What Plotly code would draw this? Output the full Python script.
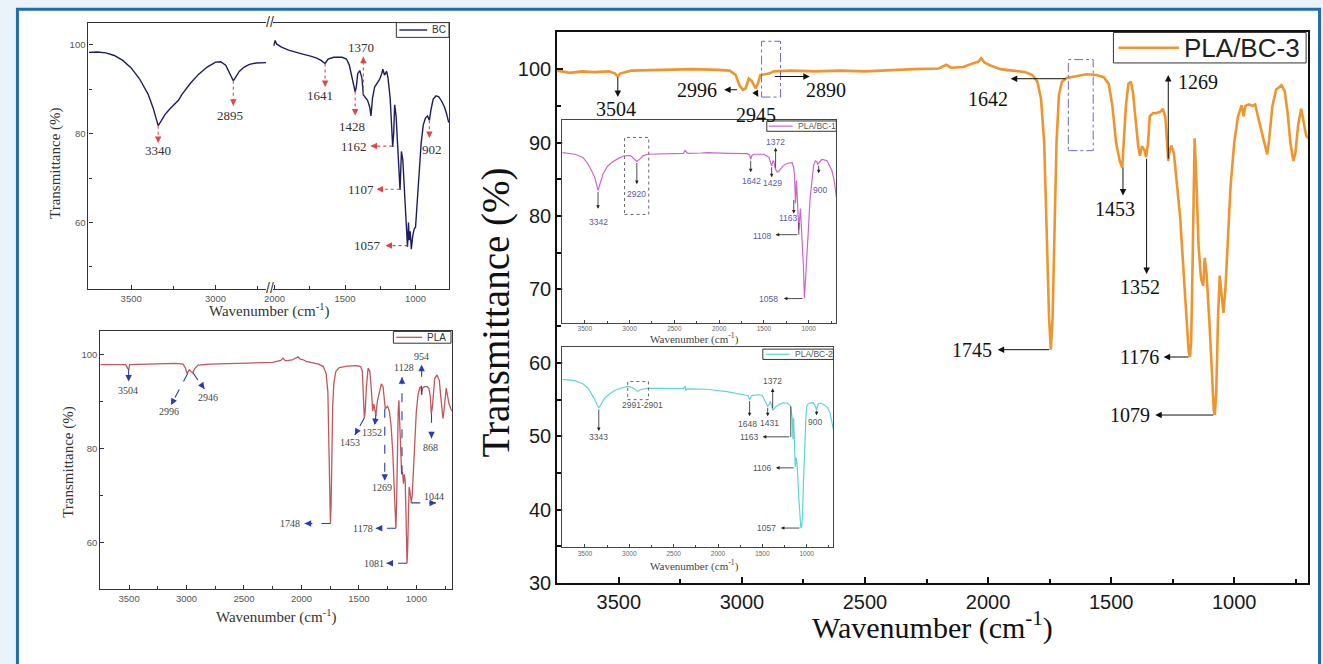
import math
import plotly.graph_objects as go

W, H = 1323, 664

# ---------------- data (wavenumber cm-1, transmittance %) ----------------
bc_wn_high = [3750, 3700, 3650, 3600, 3550, 3500, 3450, 3400, 3370, 3340, 3320, 3300, 3270, 3250,
              3220, 3200, 3150, 3100, 3050, 3000, 2970, 2940, 2910, 2895, 2880, 2860, 2830, 2800,
              2760, 2720, 2700]
bc_t_high = [98.3, 98.4, 98.2, 97.6, 96.5, 94.8, 92.3, 88.9, 85.8, 81.8, 83.0, 84.3, 85.6, 86.3,
             87.5, 88.8, 91.3, 93.4, 95.0, 96.1, 96.2, 95.4, 93.2, 91.9, 92.8, 94.0, 95.0, 95.6,
             95.9, 96.0, 96.0]
bc_wn_low = [2005, 1995, 1985, 1950, 1900, 1850, 1800, 1750, 1700, 1670, 1641, 1620, 1580, 1520,
             1490, 1470, 1450, 1435, 1428, 1420, 1410, 1395, 1380, 1370, 1355, 1340, 1325, 1316,
             1305, 1290, 1270, 1255, 1240, 1232, 1220, 1205, 1195, 1180, 1170, 1162, 1155, 1148,
             1138, 1125, 1110, 1100, 1090, 1075, 1065, 1057, 1050, 1045, 1038, 1030, 1020, 1010,
             1000, 990, 975, 960, 945, 930, 915, 902, 890, 875, 855, 835, 815, 795, 780, 765]
bc_t_low = [99.8, 101.0, 100.2, 99.5, 98.8, 98.3, 97.9, 97.5, 97.0, 96.5, 95.8, 96.8, 97.2, 97.2,
            96.8, 95.5, 92.5, 89.8, 89.4, 90.5, 93.5, 94.2, 92.5, 88.7, 88.2, 87.5, 86.0, 84.0,
            88.0, 90.5, 91.5, 92.2, 93.5, 94.5, 93.2, 94.0, 92.5, 88.0, 82.0, 77.0, 80.0, 86.5,
            84.0, 75.0, 67.3, 76.0, 74.0, 65.0, 58.0, 54.5, 60.0, 56.0, 58.0, 54.0, 57.0, 58.5,
            59.0, 64.0, 72.0, 78.0, 82.0, 83.5, 84.0, 83.0, 85.5, 87.8, 88.5, 88.3, 87.3, 86.0,
            84.5, 82.5]

pla_wn = [3750, 3600, 3530, 3510, 3504, 3495, 3300, 3100, 3030, 3010, 2996, 2975, 2960, 2946, 2930,
          2900, 2800, 2600, 2400, 2250, 2180, 2160, 2140, 2080, 2030, 2010, 1990, 1960, 1900, 1850,
          1810, 1785, 1770, 1760, 1752, 1748, 1742, 1735, 1728, 1718, 1700, 1670, 1600, 1520, 1485,
          1470, 1462, 1453, 1445, 1435, 1420, 1405, 1390, 1380, 1370, 1360, 1352, 1340, 1320, 1305,
          1290, 1280, 1270, 1260, 1250, 1235, 1220, 1205, 1190, 1182, 1178, 1172, 1165, 1158, 1152,
          1145, 1135, 1128, 1120, 1112, 1104, 1097, 1090, 1085, 1081, 1076, 1070, 1063, 1056, 1050,
          1044, 1036, 1025, 1012, 1000, 985, 970, 960, 954, 948, 930, 905, 890, 878, 870, 862, 852,
          840, 820, 800, 785, 775, 768, 760, 750, 740, 730, 715, 700, 690]
pla_t = [97.9, 98.0, 97.9, 97.0, 96.8, 97.9, 98.1, 98.2, 98.0, 97.2, 96.0, 96.8, 96.4, 96.2, 97.0,
         97.8, 98.0, 98.1, 98.3, 98.4, 98.8, 99.3, 98.7, 98.9, 99.6, 99.1, 99.0, 98.6, 98.3, 98.0,
         97.5, 96.0, 92.0, 80.0, 68.0, 64.0, 68.0, 80.0, 89.0, 94.0, 96.5, 97.3, 97.6, 97.7, 97.5,
         96.5, 93.0, 86.5, 88.0, 93.0, 97.2, 96.5, 92.0, 88.0, 89.5, 87.5, 87.0, 90.0, 92.5, 93.8,
         93.2, 91.0, 88.5, 88.8, 89.0, 88.0, 85.0, 79.0, 70.0, 63.5, 63.0, 68.0, 80.0, 88.0, 90.3,
         86.0, 76.0, 74.5, 75.0, 72.5, 74.5, 73.0, 66.0, 58.0, 55.5, 58.0, 64.0, 71.8, 71.0, 69.0,
         68.4, 70.0, 75.0, 82.0, 88.0, 91.5, 93.0, 93.2, 91.5, 92.8, 93.2, 93.2, 92.8, 91.0, 87.4,
         88.5, 92.5, 95.0, 95.7, 94.5, 90.5, 87.0, 86.4, 88.0, 91.5, 92.9, 91.5, 89.5, 88.5, 88.0]

bc3_wn = [3750, 3700, 3650, 3600, 3540, 3515, 3504, 3495, 3450, 3300, 3200, 3100, 3050, 3025, 3010,
          2996, 2985, 2972, 2960, 2945, 2935, 2925, 2910, 2890, 2870, 2800, 2700, 2600, 2500, 2400,
          2300, 2200, 2170, 2150, 2100, 2060, 2040, 2028, 2015, 1990, 1950, 1900, 1850, 1820, 1800,
          1785, 1772, 1762, 1752, 1745, 1738, 1730, 1722, 1712, 1700, 1680, 1650, 1600, 1560, 1530,
          1510, 1495, 1480, 1465, 1455, 1448, 1440, 1430, 1420, 1412, 1400, 1390, 1383, 1375, 1365,
          1358, 1350, 1343, 1330, 1320, 1300, 1290, 1280, 1272, 1268, 1262, 1255, 1245, 1235, 1220,
          1205, 1195, 1185, 1180, 1175, 1170, 1165, 1161, 1155, 1145, 1135, 1126, 1120, 1112, 1100,
          1090, 1083, 1079, 1073, 1066, 1059, 1052, 1044, 1036, 1028, 1015, 1000, 985, 970, 962, 955,
          940, 925, 915, 900, 885, 875, 866, 858, 845, 830, 808, 795, 783, 772, 760, 752, 740, 728,
          718, 708, 700]
bc3_t = [99.8, 99.5, 99.7, 99.6, 99.7, 99.4, 99.0, 99.4, 99.8, 99.9, 100.0, 99.9, 99.8, 99.2, 97.8,
         97.2, 97.4, 98.7, 98.4, 97.4, 98.0, 99.2, 99.3, 99.4, 99.7, 99.8, 99.7, 99.8, 99.7, 99.9,
         100.0, 100.1, 100.6, 100.2, 100.3, 100.8, 101.0, 101.5, 100.9, 100.5, 100.0, 99.8, 99.6,
         99.2, 98.3, 96.0, 90.0, 78.0, 66.0, 61.8, 66.0, 78.0, 90.0, 96.5, 98.3, 98.8, 99.0, 99.3,
         99.2, 98.9, 98.0, 95.0, 90.0, 87.5, 86.6, 90.0, 95.0, 98.0, 98.3, 97.0, 93.0, 89.5, 88.2,
         89.5, 89.0, 88.0, 90.0, 93.6, 94.0, 94.0, 94.2, 94.6, 93.5, 89.5, 87.5, 89.0, 89.6, 88.5,
         85.0, 80.0, 72.0, 66.0, 61.5, 60.8, 63.0, 72.0, 83.0, 90.6, 86.0, 76.0, 71.5, 70.5, 74.3,
         72.0, 65.0, 58.0, 53.5, 52.9, 56.0, 66.0, 71.9, 69.5, 66.8, 70.0, 76.0, 84.0, 90.0, 93.5,
         95.1, 93.6, 95.0, 95.2, 95.0, 95.2, 93.0, 91.0, 89.5, 88.4, 90.5, 95.0, 97.2, 97.8, 97.0,
         94.0, 90.0, 87.5, 88.5, 92.5, 94.6, 93.0, 91.0, 90.6]

bc1_wn = [3750, 3611, 3520, 3463, 3420, 3389, 3352, 3320, 3297, 3250, 3203, 3130, 3056, 2990, 2963,
          2919, 2880, 2852, 2797, 2650, 2500, 2400, 2380, 2365, 2350, 2200, 2130, 1900, 1685, 1660,
          1648, 1635, 1611, 1500, 1470, 1444, 1425, 1414, 1400, 1389, 1372, 1350, 1335, 1315, 1290,
          1259, 1220, 1185, 1170, 1159, 1148, 1137, 1124, 1111, 1093, 1075, 1060, 1048, 1038, 1026,
          1013, 1000, 985, 963, 945, 926, 910, 900, 889, 870, 852, 830, 796, 770, 741, 715, 692]
bc1_t = [94.5, 94.0, 93.0, 90.8, 88.5, 86.6, 82.4, 85.5, 87.6, 90.0, 91.3, 92.6, 93.5, 93.6, 92.9,
         91.7, 92.6, 93.5, 94.0, 94.1, 94.2, 94.3, 95.2, 94.7, 94.3, 94.4, 94.5, 94.3, 94.2, 93.8,
         92.4, 93.6, 94.0, 94.0, 93.6, 93.0, 91.2, 90.3, 91.8, 91.8, 89.2, 88.3, 88.5, 89.2, 90.2,
         90.8, 91.2, 91.3, 90.0, 87.6, 78.2, 85.6, 78.0, 69.8, 76.6, 68.0, 58.2, 47.7, 52.0, 57.1,
         65.0, 71.8, 80.0, 86.6, 90.5, 91.9, 91.6, 90.8, 91.2, 92.1, 92.4, 92.2, 91.9, 90.5, 88.7,
         85.5, 80.3]

bc2_wn = [3750, 3611, 3520, 3463, 3400, 3344, 3310, 3277, 3220, 3166, 3090, 3018, 2960, 2930, 2906,
          2870, 2795, 2650, 2498, 2390, 2372, 2362, 2350, 2200, 2127, 1900, 1682, 1660, 1644, 1625,
          1607, 1532, 1500, 1466, 1440, 1420, 1410, 1395, 1384, 1365, 1347, 1310, 1273, 1217, 1180,
          1163, 1155, 1148, 1140, 1130, 1118, 1106, 1090, 1075, 1066, 1057, 1048, 1038, 1025, 1010,
          1000, 985, 960, 930, 910, 889, 870, 850, 820, 796, 770, 741, 720, 700]
bc2_t = [94.5, 94.1, 93.0, 91.6, 88.5, 85.2, 86.8, 88.4, 89.8, 90.9, 91.7, 92.2, 91.8, 91.0, 90.6,
         91.2, 91.6, 91.6, 91.6, 91.5, 92.3, 90.9, 91.4, 91.4, 91.3, 90.5, 89.5, 89.2, 87.9, 89.0,
         89.3, 89.5, 89.2, 87.3, 85.7, 86.5, 87.3, 86.0, 84.6, 85.0, 85.7, 86.3, 86.8, 86.8, 85.7,
         81.4, 75.0, 82.0, 74.0, 66.0, 69.0, 65.7, 56.0, 48.0, 46.1, 46.5, 50.0, 60.0, 72.0, 82.0,
         85.7, 86.5, 86.8, 87.0, 86.2, 84.6, 86.5, 86.8, 86.5, 86.0, 85.5, 84.0, 81.0, 78.2]

# ---------------- styles ----------------
SERIF = "Liberation Serif, Times New Roman, serif"
SANS = "Liberation Sans, Arial, sans-serif"
C_BC, C_PLA, C_BC3, C_BC1, C_BC2 = "#1d1d5e", "#c0575a", "#ee9530", "#cc66cc", "#5dd5d5"
C_RED, C_BLUE = "#e04646", "#2a3cb0"

# axis geometry (pixels) -> paper domains
AX = {
    "1": dict(dx=(80, 259), dy=(23, 294), rx=(3753, 2700), ry=(45, 105)),
    "2": dict(dx=(266, 443), dy=(23, 294), rx=(2009, 763), ry=(45, 105)),
    "3": dict(dx=(92, 446), dy=(337, 599), rx=(3750, 690), ry=(50, 105)),
    "4": dict(dx=(552, 1308), dy=(33, 593), rx=(3750, 700), ry=(30, 105)),
    "5": dict(dx=(557, 833), dy=(122, 328), rx=(3752, 692), ry=(40, 105)),
    "6": dict(dx=(557, 830), dy=(353, 556), rx=(3756, 700), ry=(40, 105)),
}


def xd(k):
    a, b = AX[k]["dx"]
    return [a / W, b / W]


def yd(k):
    t, b = AX[k]["dy"]
    return [1 - b / H, 1 - t / H]


def ref(k):
    return ("x" if k == "1" else "x" + k), ("y" if k == "1" else "y" + k)


def scale(k):
    a = AX[k]
    sx = (a["dx"][1] - a["dx"][0]) / (a["rx"][1] - a["rx"][0])
    sy = (a["dy"][1] - a["dy"][0]) / (a["ry"][1] - a["ry"][0])
    return sx, sy


fig = go.Figure()
series = [("1", bc_wn_high, bc_t_high, C_BC, 1.4), ("2", bc_wn_low, bc_t_low, C_BC, 1.4),
          ("3", pla_wn, pla_t, C_PLA, 1.3), ("4", bc3_wn, bc3_t, C_BC3, 2.6),
          ("5", bc1_wn, bc1_t, C_BC1, 1.2), ("6", bc2_wn, bc2_t, C_BC2, 1.2)]
for k, xs, ys, col, wd in series:
    xr, yr = ref(k)
    fig.add_trace(go.Scatter(x=xs, y=ys, xaxis=xr, yaxis=yr, mode="lines",
                             line=dict(color=col, width=wd), showlegend=False, hoverinfo="skip"))

layout = {}


def xaxis(k, **kw):
    base = dict(domain=xd(k), range=list(AX[k]["rx"]), anchor=ref(k)[1], showgrid=False,
                zeroline=False, showline=True, ticks="inside")
    base.update(kw)
    layout["xaxis" if k == "1" else "xaxis" + k] = base


def yaxis(k, **kw):
    base = dict(domain=yd(k), range=list(AX[k]["ry"]), anchor=ref(k)[0], showgrid=False,
                zeroline=False, showline=True, ticks="inside")
    base.update(kw)
    layout["yaxis" if k == "1" else "yaxis" + k] = base


small_tick = dict(size=9.5, color="#555", family=SANS)
xaxis("1", tickvals=[3500, 3000], linecolor="#333", linewidth=1.2, mirror=True, ticklen=4,
      tickcolor="#333", tickfont=small_tick,
      minor=dict(tickvals=[3250, 2750], ticks="inside", ticklen=3, tickcolor="#333"))
yaxis("1", tickvals=[60, 80, 100], linecolor="#333", linewidth=1.2, ticklen=4, tickcolor="#333",
      tickfont=small_tick, minor=dict(dtick=10, ticks="inside", ticklen=3, tickcolor="#333"))
xaxis("2", tickvals=[2000, 1500, 1000], linecolor="#333", linewidth=1.2, mirror=True, ticklen=4,
      tickcolor="#333", tickfont=small_tick,
      minor=dict(tickvals=[1750, 1250], ticks="inside", ticklen=3, tickcolor="#333"))
yaxis("2", side="right", ticks="", showticklabels=False, linecolor="#333", linewidth=1.2)
xaxis("3", dtick=500, tick0=0, linecolor="#333", linewidth=1.2, mirror=True, ticklen=4,
      tickcolor="#333", tickfont=small_tick,
      minor=dict(dtick=250, ticks="inside", ticklen=3, tickcolor="#333"))
yaxis("3", tickvals=[60, 80, 100], linecolor="#333", linewidth=1.2, mirror=True, ticklen=4,
      tickcolor="#333", tickfont=small_tick,
      minor=dict(dtick=10, ticks="inside", ticklen=3, tickcolor="#333"))
big_tick = dict(size=20, color="#1a1a1a", family=SANS)
xaxis("4", dtick=500, tick0=0, linecolor="#111", linewidth=2, mirror=True, ticklen=6,
      tickwidth=2, tickcolor="#111", tickfont=big_tick,
      minor=dict(dtick=250, ticks="inside", ticklen=4, tickcolor="#111", tickwidth=1.5))
yaxis("4", dtick=10, tick0=0, linecolor="#111", linewidth=2, mirror=True, ticklen=6,
      tickwidth=2, tickcolor="#111", tickfont=big_tick,
      minor=dict(dtick=5, ticks="inside", ticklen=4, tickcolor="#111", tickwidth=1.5))
tiny_tick = dict(size=6.5, color="#666", family=SANS)
for k in ("5", "6"):
    xaxis(k, dtick=500, tick0=0, linecolor="#444", linewidth=1, mirror=True, ticklen=3,
          tickcolor="#444", tickfont=tiny_tick,
          minor=dict(dtick=250, ticks="inside", ticklen=2, tickcolor="#444"))
    yaxis(k, showticklabels=False, ticks="", linecolor="#444", linewidth=1, mirror=True)

ann = []
shapes = []

# ---- frame ----
shapes.append(dict(type="rect", xref="paper", yref="paper", x0=8.5 / W, x1=1319.5 / W,
                   y0=-0.05, y1=1 - 9.5 / H, line=dict(color="#1f6cb3", width=3),
                   fillcolor="white", layer="below"))


def ptxt(text, px, py, size, color="#222", family=SERIF, angle=0, xanchor="center"):
    ann.append(dict(text=text, x=px / W, y=1 - py / H, xref="paper", yref="paper",
                    showarrow=False, textangle=angle, xanchor=xanchor, yanchor="middle",
                    font=dict(size=size, color=color, family=family)))


# ---- axis titles ----
ptxt("Transmittance (%)", 47, 166, 15, "#333", angle=-90)
ptxt("Wavenumber (cm<sup>-1</sup>)", 262, 316, 15, "#333")
ptxt("Transmittance (%)", 60, 470, 15, "#333", angle=-90)
ptxt("Wavenumber (cm<sup>-1</sup>)", 269, 627, 15, "#333")
ptxt("Transmittance (%)", 490, 318, 39, "#111", angle=-90)
ptxt("Wavenumber (cm<sup>-1</sup>)", 930, 636, 30, "#111")
ptxt("Wavenumber (cm<sup>-1</sup>)", 690, 344, 11, "#444")
ptxt("Wavenumber (cm<sup>-1</sup>)", 690, 575, 11, "#444")

# ---- axis break marks ----
ptxt("//", 262.5, 22, 14, "#333", family=SANS)
ptxt("//", 262.5, 293, 14, "#333", family=SANS)


# ---- legends (drawn as boxes) ----
def legend_box(x0, y0, x1, y1, lx0, lx1, col, lw, label, size, tcol):
    shapes.append(dict(type="rect", xref="paper", yref="paper", x0=x0 / W, x1=x1 / W,
                       y0=1 - y1 / H, y1=1 - y0 / H, line=dict(color="#333", width=1),
                       fillcolor="white", layer="above"))
    ym = 1 - (y0 + y1) / 2 / H
    shapes.append(dict(type="line", xref="paper", yref="paper", x0=lx0 / W, x1=lx1 / W,
                       y0=ym, y1=ym, line=dict(color=col, width=lw), layer="above"))
    ptxt(label, lx1 + 3, (y0 + y1) / 2, size, tcol, family=SANS, xanchor="left")


legend_box(390, 23, 443, 38, 393, 421, C_BC, 1.4, "BC", 10, "#333")
legend_box(387, 337, 445, 349, 390, 416, C_PLA, 1.3, "PLA", 10, "#333")
legend_box(1112, 33, 1306, 64, 1117, 1178, C_BC3, 2.5, "PLA/BC-3", 26, "#222")
legend_box(763, 123, 833, 133.5, 765, 789, C_BC1, 1.2, "PLA/BC-1", 8.5, "#555")
legend_box(759, 355, 830, 365.5, 762, 786, C_BC2, 1.2, "PLA/BC-2", 8.5, "#555")


# ---- peak annotations ----
def arrow(k, tail, tip, color, width=1, size=1.0):
    xr, yr = ref(k)
    ann.append(dict(x=tip[0], y=tip[1], ax=tail[0], ay=tail[1], xref=xr, yref=yr, axref=xr,
                    ayref=yr, text="", showarrow=True, arrowhead=2, arrowsize=size,
                    arrowwidth=width, arrowcolor=color))


def dashed_arrow(k, tail, tip, color, dash, width=1.1):
    xr, yr = ref(k)
    shapes.append(dict(type="line", xref=xr, yref=yr, x0=tail[0], y0=tail[1], x1=tip[0],
                       y1=tip[1], line=dict(color=color, width=width, dash=dash)))
    sx, sy = scale(k)
    ddx = (tail[0] - tip[0]) * sx
    ddy = -(tail[1] - tip[1]) * sy
    L = math.hypot(ddx, ddy) or 1
    ann.append(dict(x=tip[0], y=tip[1], xref=xr, yref=yr, ax=ddx * 7 / L, ay=ddy * 7 / L,
                    text="", showarrow=True, arrowhead=2, arrowsize=1, arrowwidth=1.3,
                    arrowcolor=color))


def label(k, text, x, y, size, color, family=SERIF, xanchor="center"):
    xr, yr = ref(k)
    ann.append(dict(x=x, y=y, xref=xr, yref=yr, text=text, showarrow=False, xanchor=xanchor,
                    yanchor="middle", font=dict(size=size, color=color, family=family)))


def rect(k, x0, x1, y0, y1, color, dash):
    xr, yr = ref(k)
    shapes.append(dict(type="rect", xref=xr, yref=yr, x0=x0, x1=x1, y0=y0, y1=y1,
                       line=dict(color=color, width=1, dash=dash)))


# BC panel
bc_marks = [("1", (3340, 81.8), (3340, 77.9)), ("1", (2895, 91.9), (2895, 86.3)),
            ("2", (1641, 95.8), (1641, 90.5)), ("2", (1370, 88.8), (1370, 97.3)),
            ("2", (1428, 89.5), (1428, 84.1)), ("2", (1165, 77.2), (1319, 77.2)),
            ("2", (1112, 67.5), (1277, 67.5)), ("2", (1057, 54.8), (1213, 54.8)),
            ("2", (902, 83.0), (902, 79.0))]
for k, tail, tip in bc_marks:
    dashed_arrow(k, tail, tip, C_RED, "dot")
bc_labels = [("1", "3340", 3340, 76.1), ("1", "2895", 2915, 84.1), ("2", "1641", 1675, 88.7),
             ("2", "1370", 1390, 99.4), ("2", "1428", 1448, 81.7), ("2", "1162", 1439, 77.2),
             ("2", "1107", 1386, 67.5), ("2", "1057", 1342, 54.8), ("2", "902", 882, 76.4)]
for k, t, x, y in bc_labels:
    label(k, t, x, y, 13, "#333")

# PLA panel
pla_marks = [((3504, 96.9), (3504, 94.3)), ((2990, 96.0), (3135, 89.3)),
             ((2946, 96.2), (2844, 92.7)), ((1453, 86.5), (1535, 82.9)),
             ((1352, 87.2), (1362, 85.0)), ((1275, 88.5), (1275, 73.1)),
             ((1125, 74.5), (1125, 95.2)), ((954, 91.5), (954, 97.9)),
             ((868, 87.4), (868, 82.2)), ((1044, 68.4), (829, 68.4)),
             ((1748, 64.0), (1972, 64.0)), ((1178, 63.0), (1353, 63.0)),
             ((1081, 55.5), (1260, 55.5))]
for tail, tip in pla_marks:
    dashed_arrow("3", tail, tip, C_BLUE, "dash")
pla_labels = [("3504", 3510, 92.4), ("2996", 3157, 87.9), ("2946", 2815, 90.9),
              ("1453", 1577, 81.2), ("1352", 1382, 83.4), ("1269", 1300, 71.7),
              ("1128", 1108, 97.4), ("954", 954, 99.7), ("868", 876, 80.3),
              ("1044", 849, 69.8), ("1748", 2096, 64.0), ("1178", 1462, 63.0),
              ("1081", 1367, 55.5)]
for t, x, y in pla_labels:
    label("3", t, x, y, 10, "#444")

# main panel (PLA/BC-3)
main_marks = [((3504, 99.1), (3504, 96.2)), ((3014, 97.2), (3072, 97.2)),
              ((2950, 97.2), (2933, 96.2)), ((2872, 99.0), (2724, 99.0)),
              ((1678, 98.7), (1908, 98.7)), ((1268, 87.6), (1268, 99.2)),
              ((1452, 86.8), (1452, 82.8)), ((1356, 88.0), (1356, 72.1)),
              ((1746, 61.8), (1961, 61.8)), ((1180, 60.8), (1287, 60.8)),
              ((1079, 52.9), (1321, 52.9))]
for tail, tip in main_marks:
    arrow("4", tail, tip, "#111", 1, 1.3)
main_labels = [("3504", 3513, 94.6, "center"), ("2996", 3184, 97.2, "center"),
               ("2945", 2941, 93.7, "center"), ("2890", 2658, 97.2, "center"),
               ("1642", 2002, 96.0, "center"), ("1269", 1236, 98.2, "left"),
               ("1453", 1483, 81.0, "center"), ("1352", 1381, 70.3, "center"),
               ("1745", 1974, 61.8, "right"), ("1176", 1297, 60.8, "right"),
               ("1079", 1334, 52.9, "right")]
for t, x, y, xa in main_labels:
    label("4", t, x, y, 20, "#111", xanchor=xa)
rect("4", 2920, 2843, 96.2, 103.8, "#6b6bbf", "dashdot")
rect("4", 1674, 1573, 88.9, 101.3, "#6b6bbf", "dashdot")

# inset PLA/BC-1
c_i1 = "#5a5aa8"
i1_marks = [((3352, 82.4), (3352, 76.5)), ((2919, 91.7), (2919, 84.4)),
            ((1648, 92.4), (1648, 88.2)), ((1414, 90.3), (1414, 86.6)),
            ((1370, 89.2), (1370, 96.1)), ((1167, 79.8), (1167, 75.0)),
            ((1111, 68.2), (1370, 68.2)), ((1052, 47.7), (1278, 47.7)),
            ((889, 90.8), (889, 87.9))]
for tail, tip in i1_marks:
    arrow("5", tail, tip, "#222", 0.8, 0.9)
shapes.append(dict(type="line", xref="x5", yref="y5", x0=1111, x1=1111, y0=72.0, y1=68.2,
                   line=dict(color="#222", width=0.8)))
i1_labels = [("3342", 3352, 72.4), ("2920", 2926, 81.3), ("1642", 1641, 85.3),
             ("1429", 1408, 84.8), ("1372", 1370, 97.9), ("1163", 1222, 73.4),
             ("1108", 1519, 67.7), ("1058", 1444, 47.4), ("900", 870, 82.4)]
for t, x, y in i1_labels:
    label("5", t, x, y, 8.5, c_i1, family=SANS)
rect("5", 3056, 2786, 74.7, 99.4, "#666", "dot")

# inset PLA/BC-2
c_i2 = "#555"
i2_marks = [((3344, 85.2), (3344, 77.7)), ((1644, 87.9), (1644, 82.5)),
            ((1440, 85.7), (1440, 82.5)), ((1384, 84.6), (1384, 91.6)),
            ((1180, 75.8), (1496, 75.8)), ((1131, 65.7), (1347, 65.7)),
            ((1066, 46.1), (1292, 46.1)), ((889, 84.8), (889, 82.8))]
for tail, tip in i2_marks:
    arrow("6", tail, tip, "#222", 0.8, 0.9)
shapes.append(dict(type="line", xref="x6", yref="y6", x0=1180, x1=1180, y0=85.7, y1=75.8,
                   line=dict(color="#222", width=0.8)))
i2_labels = [("3343", 3344, 75.8), ("2991-2901", 2851, 86.1), ("1648", 1663, 80.1),
             ("1431", 1421, 80.4), ("1372", 1384, 94.1), ("1163", 1644, 75.6),
             ("1106", 1496, 65.7), ("1057", 1459, 46.1), ("900", 902, 80.7)]
for t, x, y in i2_labels:
    label("6", t, x, y, 8.5, c_i2, family=SANS)
rect("6", 3018, 2784, 87.9, 93.8, "#666", "dot")

# figure fills the browser viewport (paper coordinates are size-independent)
fig.update_layout(
    margin=dict(l=0, r=0, t=0, b=0), autosize=True,
    paper_bgcolor="#eaf3fa", plot_bgcolor="white", showlegend=False,
    annotations=ann, shapes=shapes, **layout)

fig.write_html("out.html",
               config={"displayModeBar": False, "responsive": True},
               default_width="100vw", default_height="100vh",
               post_script="var gd=document.getElementById('{plot_id}');"
                           "document.documentElement.style.overflow='hidden';"
                           "document.body.style.margin='0';"
                           "document.body.style.overflow='hidden';"
                           "gd.style.position='fixed';gd.style.left='0';gd.style.top='0';"
                           "gd.style.width='100vw';gd.style.height='100vh';"
                           "Plotly.Plots.resize(gd);")
